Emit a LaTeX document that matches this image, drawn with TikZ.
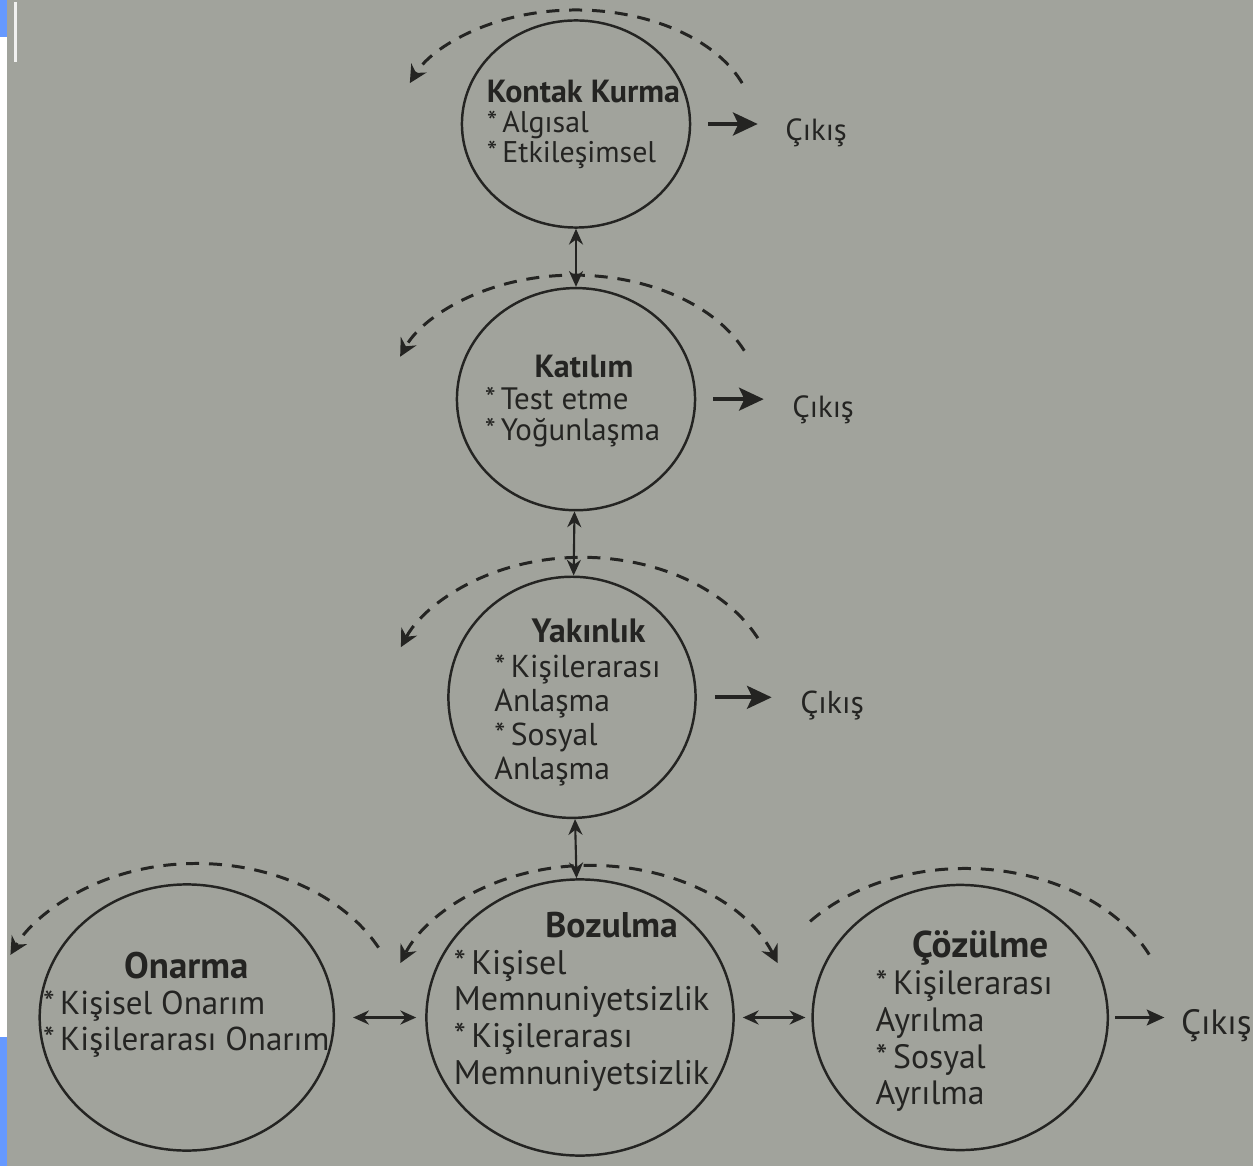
\documentclass[tikz,border=0pt]{standalone}
\usepackage{fontspec}
\setmainfont{PT Sans}
\usetikzlibrary{positioning,shapes.geometric,arrows.meta}
\definecolor{paper}{RGB}{161,163,156}
\definecolor{ink}{RGB}{36,36,34}
\definecolor{ekran}{RGB}{102,153,255}
\newcommand{\baslik}[3]{\multicolumn{1}{@{}c@{}}{\hspace*{#1}\fontsize{#2}{#2}\selectfont\textbf{#3}}}
\newcommand{\yildiz}{{*}\,}

\begin{document}
\begin{tikzpicture}[x=0.01cm, y=0.01cm,
	stage/.style={ellipse, draw=ink, line width=0.7pt, inner sep=0pt},
	txt/.style={inner sep=0pt, text=ink},
	cikis/.style={draw=ink, line width=1.1pt, -{Stealth[length=7pt,width=6.5pt,inset=1.5pt]}},
	cift/.style={draw=ink, line width=0.6pt, {Stealth[length=4.5pt,width=4pt]}-{Stealth[length=4.5pt,width=4pt]}},
	dongu/.style={draw=ink, line width=0.85pt, dash pattern=on 3.7pt off 2.8pt}]
			\useasboundingbox[fill=paper] (0,0) rectangle (1253,1166);
			\fill[white] (0,0) rectangle (7,1166);
			\fill[ekran] (0,1166) rectangle (7,1129);
			\fill[ekran] (0,129) rectangle (7,0);
			\fill[white!85!paper] (14,1164) rectangle (17,1104);

			\node[stage, minimum width=2.28cm, minimum height=2.07cm] (1) at (576,1042) {};
			\node[stage, minimum width=2.38cm, minimum height=2.22cm] (2) [below of = 1, node distance=2.75cm] {};
			\node[stage, minimum width=2.47cm, minimum height=2.41cm] (3) [below of = 2, node distance=2.98cm, xshift=-0.04cm] {};
			\node[stage, minimum width=3.07cm, minimum height=2.76cm] (4) [below of = 3, node distance=3.20cm, xshift=0.08cm] {};
			\node[stage, minimum width=2.94cm, minimum height=2.66cm] (5) [left of = 4, node distance=3.93cm] {};
			\node[stage, minimum width=2.95cm, minimum height=2.65cm] (6) [right of = 4, node distance=3.80cm] {};

			\node[txt, font=\fontsize{8.5}{8.3}\selectfont] (1t) at ([xshift=0.075cm, yshift=-0.02cm]1.center)
				{\begin{tabular}{@{}l@{}}\baslik{0pt}{9.1}{Kontak Kurma}\\\yildiz Algısal\\\yildiz Etkileşimsel\end{tabular}};
			\node[txt, font=\fontsize{8.8}{8.8}\selectfont] (2t) at ([xshift=-0.035cm, yshift=-0.035cm]2.center)
				{\begin{tabular}{@{}l@{}}\baslik{0.23cm}{9.1}{Katılım}\\\yildiz Test etme\\\yildiz Yoğunlaşma\end{tabular}};
			\node[txt, font=\fontsize{9}{9.7}\selectfont] (3t) at ([xshift=0.055cm, yshift=-0.07cm]3.center)
				{\begin{tabular}{@{}l@{}}\baslik{0.22cm}{9.6}{Yakınlık}\\\yildiz Kişilerarası\\Anlaşma\\\yildiz Sosyal\\Anlaşma\end{tabular}};
			\node[txt, font=\fontsize{9.7}{10.45}\selectfont] (4t) at ([xshift=0.015cm, yshift=0.14cm]4.center)
				{\begin{tabular}{@{}l@{}}\baslik{0.6cm}{10.15}{Bozulma}\\\yildiz Kişisel\\Memnuniyetsizlik\\\yildiz Kişilerarası\\Memnuniyetsizlik\end{tabular}};
			\node[txt, font=\fontsize{9.4}{10.2}\selectfont] (5t) at ([xshift=-0.005cm, yshift=0.11cm]5.center)
				{\begin{tabular}{@{}l@{}}\baslik{0pt}{10.5}{Onarma}\\\yildiz Kişisel Onarım\\\yildiz Kişilerarası Onarım\end{tabular}};
			\node[txt, font=\fontsize{9.6}{10.45}\selectfont] (6t) at ([xshift=0.04cm, yshift=-0.06cm]6.center)
				{\begin{tabular}{@{}l@{}}\baslik{0.32cm}{10.6}{Çözülme}\\\yildiz Kişilerarası\\Ayrılma\\\yildiz Sosyal\\Ayrılma\end{tabular}};

			\node[txt, font=\fontsize{8.7}{10}\selectfont] (c1) [right of = 1, node distance=2.40cm, yshift=-0.09cm] {Çıkış};
			\node[txt, font=\fontsize{8.7}{10}\selectfont] (c2) [right of = 2, node distance=2.47cm, yshift=-0.11cm] {Çıkış};
			\node[txt, font=\fontsize{9}{10}\selectfont] (c3) [right of = 3, node distance=2.60cm, yshift=-0.08cm] {Çıkış};
			\node[txt, font=\fontsize{10}{11}\selectfont] (c6) [right of = 6, node distance=2.56cm, yshift=-0.08cm] {Çıkış};

			\draw[cikis, shorten <=0.17cm, shorten >=0.27cm] (1.east) -- (1.east -| c1.west);
			\draw[cikis, shorten <=0.17cm, shorten >=0.28cm] (2.east) -- (2.east -| c2.west);
			\draw[cikis, shorten <=0.18cm, shorten >=0.28cm] (3.east) -- (3.east -| c3.west);
			\draw[cikis, line width=0.75pt, -{Stealth[length=5pt,width=4.5pt,inset=1pt]}, shorten <=0.06cm, shorten >=0.16cm] (6.east) -- (6.east -| c6.west);

			\draw[cift] (1) -- (2);
			\draw[cift] (2) -- (3);
			\draw[cift] (3) -- (4);
			\draw[cift, shorten <=0.18cm, shorten >=0.09cm] (5) -- (4);
			\draw[cift, shorten <=0.08cm, shorten >=0.06cm] (4) -- (6);

			\draw[dongu, -{Stealth[length=5pt,width=5pt]}] ([shift={(21:178 and 114)}]1.center) arc[start angle=21, end angle=159, x radius=178, y radius=114];
			\draw[dongu, -{Stealth[length=5pt,width=5pt]}] ([xshift=-0.02cm, shift={(23:185 and 124)}]2.center) arc[start angle=23, end angle=160, x radius=185, y radius=124];
			\draw[dongu, -{Stealth[length=5pt,width=5pt]}] ([xshift=0.10cm, shift={(25:194 and 140)}]3.center) arc[start angle=25, end angle=159, x radius=194, y radius=140];
			\draw[dongu, {Stealth[length=5pt,width=5pt]}-{Stealth[length=5pt,width=5pt]}] ([xshift=0.09cm, shift={(21:202 and 152)}]4.center) arc[start angle=21, end angle=159, x radius=202, y radius=152];
			\draw[dongu, -{Stealth[length=5pt,width=5pt]}] ([xshift=0.10cm, shift={(27:204 and 154)}]5.center) arc[start angle=27, end angle=156, x radius=204, y radius=154];
			\draw[dongu] ([xshift=0.05cm, shift={(25:203 and 149)}]6.center) arc[start angle=25, end angle=143, x radius=203, y radius=149];
		\end{tikzpicture}
\end{document}
